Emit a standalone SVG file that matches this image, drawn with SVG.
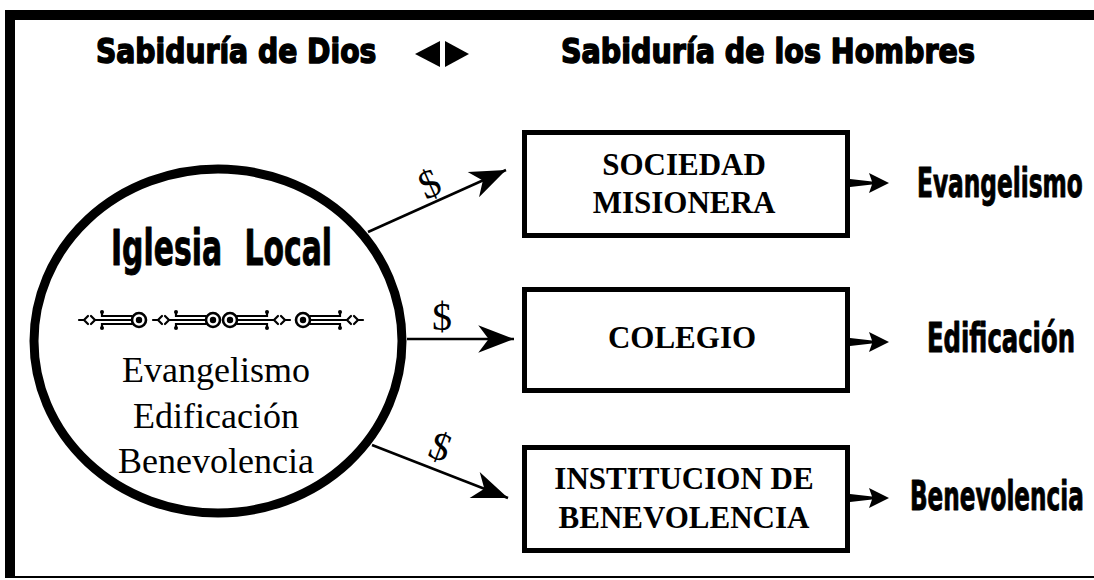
<svg xmlns="http://www.w3.org/2000/svg" width="1094" height="580" viewBox="0 0 1094 580">
<style>
.title{font-family:"DejaVu Sans","Liberation Sans",sans-serif;font-weight:bold;font-size:34px;fill:#000;stroke:#000;stroke-width:1.6;stroke-linejoin:round}
.deco{font-family:"DejaVu Sans Condensed","DejaVu Sans",sans-serif;font-stretch:condensed;font-weight:bold;fill:#000;stroke:#000;stroke-width:0.9;stroke-linejoin:round}
.serif{font-family:"Liberation Serif","Times New Roman",serif;fill:#000}
.box{fill:#fff;stroke:#000;stroke-width:5}
.conn{stroke:#000;stroke-width:2.5;fill:none}
.orn{stroke:#000;stroke-width:2.2;fill:none;stroke-linecap:round}
</style>
<defs>
<marker id="big" markerUnits="userSpaceOnUse" markerWidth="40" markerHeight="30" viewBox="-32 -13 34 26" refX="0" refY="0" orient="auto">
<path d="M0,0 L-31,-12 L-22,0 L-31,12 Z" fill="#000"/>
</marker>
<g id="orn">
<path class="orn" d="M1,0 H5 M10,-4 L6,0 L10,4 M13,-4 L17,0 L13,4 M17,0 H22"/>
<path class="orn" d="M24,-8 V-4 H54 M24,8 V4 H54 M22,0 H54"/>
<circle cx="24" cy="-8" r="2" fill="#000"/>
<circle cx="24" cy="8" r="2" fill="#000"/>
<circle cx="61" cy="0" r="7" fill="none" stroke="#000" stroke-width="2.6"/>
<circle cx="61" cy="0" r="3.2" fill="#000"/>
</g>
</defs>
<rect width="1094" height="580" fill="#fff"/>
<g id="frame">
<rect x="5" y="10" width="1089" height="10" fill="#000"/>
<rect x="5" y="10" width="10" height="568" fill="#000"/>
<rect x="5" y="576" width="1089" height="2" fill="#000"/>
</g>
<g id="header">
<text class="title" transform="translate(96,63) scale(0.83,1)">Sabiduría de Dios</text>
<polygon points="440,41 440,67 415,54" fill="#000"/>
<polygon points="445,41 445,67 469,54" fill="#000"/>
<text class="title" transform="translate(561,63) scale(0.84,1)">Sabiduría de los Hombres</text>
</g>
<g id="iglesia">
<ellipse cx="218" cy="341" rx="184" ry="172" fill="#fff" stroke="#000" stroke-width="9"/>
<text class="deco" font-size="50" word-spacing="18" transform="translate(111,265) scale(0.664,1)">Iglesia Local</text>
<use href="#orn" x="78" y="320"/>
<use href="#orn" x="152" y="320"/>
<use href="#orn" transform="translate(291,320) scale(-1,1)"/>
<use href="#orn" transform="translate(364,320) scale(-1,1)"/>
<text class="serif" x="216" y="382" font-size="36" text-anchor="middle">Evangelismo</text>
<text class="serif" x="216" y="428" font-size="36" text-anchor="middle">Edificación</text>
<text class="serif" x="216" y="473" font-size="36" text-anchor="middle">Benevolencia</text>
</g>
<g id="connectors">
<line class="conn" x1="368" y1="232" x2="506" y2="170" marker-end="url(#big)"/>
<line class="conn" x1="407" y1="339" x2="514" y2="339" marker-end="url(#big)"/>
<line class="conn" x1="372" y1="445" x2="508" y2="498" marker-end="url(#big)"/>
<text class="serif" x="430" y="197" font-size="40" text-anchor="middle" transform="rotate(-24 430 185)">$</text>
<text class="serif" x="442" y="330" font-size="40" text-anchor="middle">$</text>
<text class="serif" x="440" y="460" font-size="40" text-anchor="middle" transform="rotate(21 440 448)">$</text>
<polygon points="850,179 872,181.5 869,173 889,183 869,193 872,184.5 850,187" fill="#000"/>
<polygon points="850,338 872,340.5 869,332 889,342 869,352 872,343.5 850,346" fill="#000"/>
<polygon points="850,494 872,496.5 869,488 889,498 869,508 872,499.5 850,502" fill="#000"/>
</g>
<g id="sociedad">
<rect class="box" x="524.5" y="132.5" width="323" height="103"/>
<text class="serif" x="684" y="175" font-size="31" font-weight="bold" text-anchor="middle">SOCIEDAD</text>
<text class="serif" x="684" y="213" font-size="31" font-weight="bold" text-anchor="middle">MISIONERA</text>
</g>
<g id="colegio">
<rect class="box" x="524.5" y="289.5" width="323" height="101"/>
<text class="serif" x="682" y="348" font-size="31" font-weight="bold" text-anchor="middle">COLEGIO</text>
</g>
<g id="institucion">
<rect class="box" x="524.5" y="447.5" width="323" height="103"/>
<text class="serif" x="684" y="489" font-size="31" font-weight="bold" text-anchor="middle">INSTITUCION DE</text>
<text class="serif" x="684" y="528" font-size="31" font-weight="bold" text-anchor="middle">BENEVOLENCIA</text>
</g>
<g id="labels">
<text class="deco" font-size="40" transform="translate(917,197) scale(0.647,1)">Evangelismo</text>
<text class="deco" font-size="40" transform="translate(927,352) scale(0.676,1)">Edificación</text>
<text class="deco" font-size="40" transform="translate(910,510) scale(0.643,1)">Benevolencia</text>
</g>
</svg>
